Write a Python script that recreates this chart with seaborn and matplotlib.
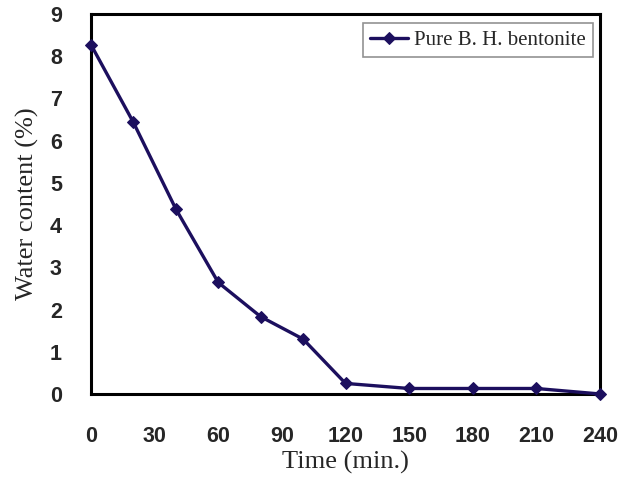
import matplotlib
matplotlib.use("Agg")
import matplotlib.pyplot as plt
import pandas as pd
import seaborn as sns

# drying curve
time_min = [0, 20, 40, 60, 80, 100, 120, 150, 180, 210, 240]
water_content = [8.27, 6.43, 4.38, 2.64, 1.83, 1.30, 0.25, 0.13, 0.13, 0.13, 0.0]
series_name = "Pure B. H. bentonite"
x_ticks = [0, 30, 60, 90, 120, 150, 180, 210, 240]
y_ticks = [0, 1, 2, 3, 4, 5, 6, 7, 8, 9]

df = pd.DataFrame({"Time": time_min, "Water": water_content, "Series": series_name})

sns.set_style("white")
line_color = "#1c0f5e"

fig, ax = plt.subplots(figsize=(6.35, 4.79), dpi=100)
fig.subplots_adjust(left=0.1433, right=0.945, top=0.971, bottom=0.1775)

sns.lineplot(
    data=df,
    x="Time",
    y="Water",
    hue="Series",
    palette=[line_color],
    marker="D",
    markersize=6.5,
    markeredgecolor=line_color,
    linewidth=2.4,
    ax=ax,
)
for ln in ax.get_lines():
    ln.set_clip_on(False)
    ln.set_zorder(5)

ax.set_xlim(0, 240)
ax.set_ylim(0, 9)
ax.set_xticks(x_ticks)
ax.set_yticks(y_ticks)
ax.tick_params(axis="both", direction="in", length=5, width=1, color="#666666",
               labelsize=15.5)
ax.tick_params(axis="x", pad=23)
ax.tick_params(axis="y", pad=21)
for lbl in ax.get_xticklabels() + ax.get_yticklabels():
    lbl.set_fontfamily("Liberation Sans")
    lbl.set_fontweight("bold")

for side in ["left", "bottom", "right", "top"]:
    ax.spines[side].set_visible(True)
    ax.spines[side].set_color("black")
    ax.spines[side].set_linewidth(2.2)

ax.set_xlabel("Time (min.)", fontfamily="Liberation Serif", fontsize=19, labelpad=3)
ax.set_ylabel("Water content (%)", fontfamily="Liberation Serif", fontsize=19, labelpad=8)

leg = ax.legend(
    loc="upper right",
    bbox_to_anchor=(593 / 635, 1 - 23 / 479),
    bbox_transform=fig.transFigure,
    borderaxespad=0,
    frameon=True,
    fancybox=False,
    edgecolor="#777777",
    prop={"family": "Liberation Serif", "size": 15},
    handlelength=1.8,
    handletextpad=0.3,
    borderpad=0.35,
)
leg.get_frame().set_linewidth(1.2)

fig.savefig("out.png", dpi=100)
plt.close(fig)
